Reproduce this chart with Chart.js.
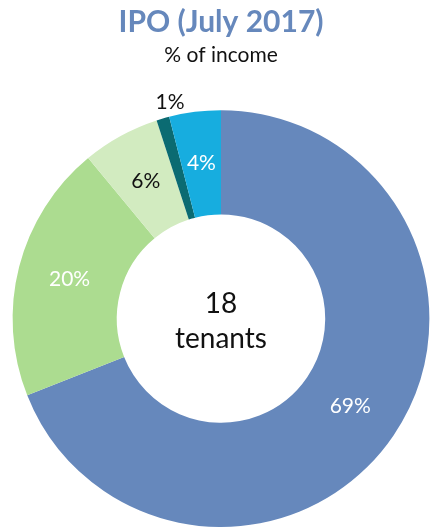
<!DOCTYPE html>
<html>
<head>
<meta charset="utf-8">
<script src="https://cdn.jsdelivr.net/npm/chart.js@4"></script>
<style>
  html, body { margin: 0; padding: 0; background: #fff; }
  #wrap { width: 431px; height: 528px; }
</style>
</head>
<body>
<div id="wrap"><canvas id="ipoChart"></canvas></div>
<script>
// data
const categories = ["A", "B", "C", "D", "E"];
const shares = [69, 20, 6, 1, 4];
const sliceLabels = ["69%", "20%", "6%", "1%", "4%"];
const sliceColors = ["#6688bc", "#acdc90", "#d2ebc0", "#0b6b72", "#17addf"];
const labelColors = ["#ffffff", "#ffffff", "#111111", "#111111", "#ffffff"];
const centerLines = ["18", "tenants"];

const FONT = "Lato, 'Open Sans', sans-serif";

// slice labels + centre text
const labelPlugin = {
  id: "sliceLabels",
  afterDatasetsDraw(chart) {
    const c = chart.ctx;
    const meta = chart.getDatasetMeta(0);
    c.save();
    c.textAlign = "center";
    c.textBaseline = "middle";
    c.font = "21px " + FONT;
    meta.data.forEach((arc, i) => {
      let pos;
      if (shares[i] < 2) {
        // tiny slice, put label outside
        const mid = (arc.startAngle + arc.endAngle) / 2;
        const r = arc.outerRadius + 17;
        pos = { x: arc.x + Math.cos(mid) * r + 12, y: arc.y + Math.sin(mid) * r };
      } else {
        pos = arc.tooltipPosition();
      }
      c.fillStyle = labelColors[i];
      c.fillText(sliceLabels[i], pos.x, pos.y);
    });
    const arc0 = meta.data[0];
    c.fillStyle = "#111111";
    c.font = "28px " + FONT;
    c.fillText(centerLines[0], arc0.x, arc0.y - 15);
    c.fillText(centerLines[1], arc0.x, arc0.y + 20);
    c.restore();
  },
};

new Chart(document.getElementById("ipoChart"), {
  type: "doughnut",
  data: {
    labels: categories,
    datasets: [
      {
        data: shares,
        backgroundColor: sliceColors,
        borderWidth: 0,
      },
    ],
  },
  options: {
    responsive: true,
    maintainAspectRatio: false,
    animation: false,
    cutout: "50%",
    layout: {
      padding: { left: 11, right: 0, top: 0, bottom: 1 },
    },
    plugins: {
      legend: { display: false },
      tooltip: { enabled: false },
      title: {
        display: true,
        text: "IPO (July 2017)",
        color: "#6688bc",
        font: { family: FONT, size: 30, weight: "bold" },
        padding: { top: 4, bottom: 3 },
      },
      subtitle: {
        display: true,
        text: "% of income",
        color: "#111111",
        font: { family: FONT, size: 21 },
        padding: { top: 0, bottom: 42 },
      },
    },
  },
  plugins: [labelPlugin],
});
</script>
</body>
</html>
